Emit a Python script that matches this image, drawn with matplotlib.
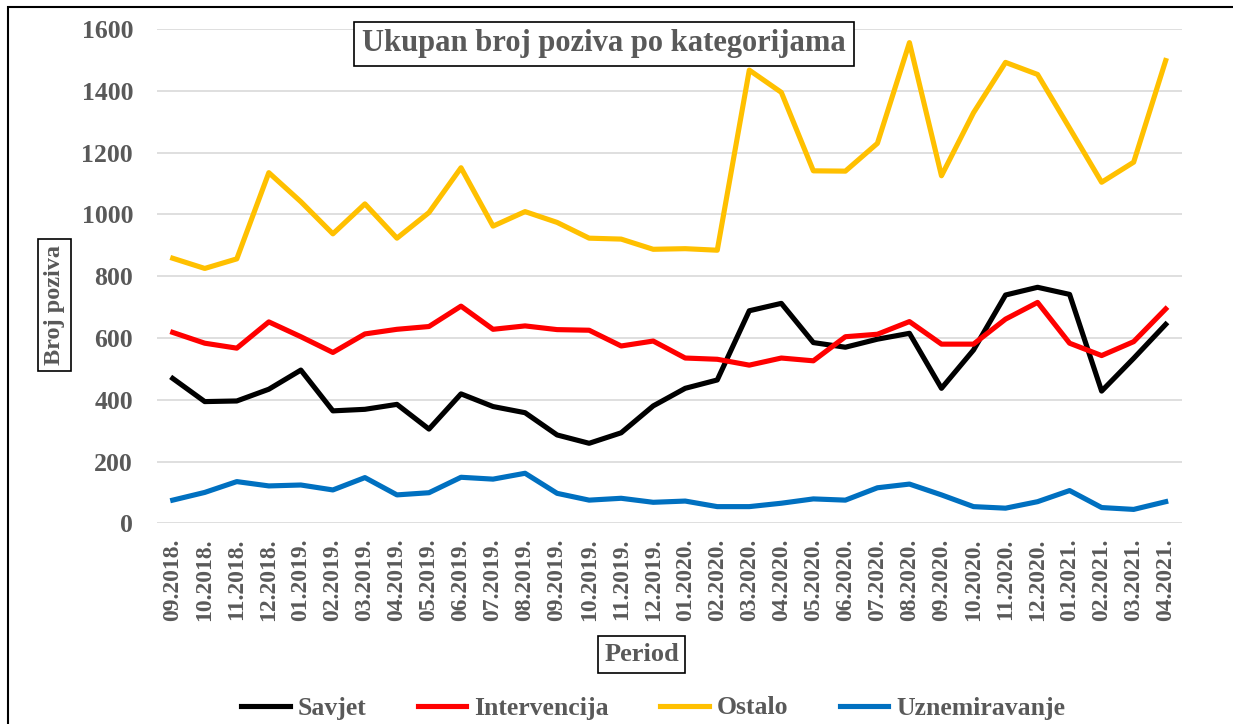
import matplotlib.pyplot as plt
from matplotlib.patches import Rectangle

periods = ["09.2018.", "10.2018.", "11.2018.", "12.2018.",
           "01.2019.", "02.2019.", "03.2019.", "04.2019.", "05.2019.", "06.2019.",
           "07.2019.", "08.2019.", "09.2019.", "10.2019.", "11.2019.", "12.2019.",
           "01.2020.", "02.2020.", "03.2020.", "04.2020.", "05.2020.", "06.2020.",
           "07.2020.", "08.2020.", "09.2020.", "10.2020.", "11.2020.", "12.2020.",
           "01.2021.", "02.2021.", "03.2021.", "04.2021."]

savjet = [469, 394, 396, 434, 496, 364, 369, 385, 305, 419, 378, 358,
          286, 259, 293, 380, 437, 464, 688, 712, 585, 570, 596, 615,
          437, 561, 739, 764, 741, 428, 534, 644]
intervencija = [618, 583, 567, 652, 604, 553, 613, 628, 637, 703, 628, 639,
                627, 625, 574, 590, 535, 531, 512, 535, 526, 604, 612, 653,
                580, 580, 661, 715, 583, 543, 588, 694]
ostalo = [858, 825, 856, 1135, 1041, 937, 1034, 923, 1006, 1151, 962, 1009,
          974, 923, 920, 887, 889, 884, 1467, 1395, 1141, 1140, 1230, 1556,
          1125, 1329, 1492, 1453, 1279, 1104, 1169, 1498]
uznemiravanje = [75, 100, 135, 121, 124, 108, 148, 92, 99, 149, 143, 162,
                 97, 75, 81, 68, 72, 54, 54, 65, 79, 75, 115, 127,
                 92, 54, 49, 70, 106, 51, 45, 70]

grey = '#595959'
plt.rcParams['font.family'] = ['Liberation Serif', 'DejaVu Serif']
plt.rcParams['font.weight'] = 'bold'

fig = plt.figure(figsize=(12.33, 7.24), dpi=100)
ax = fig.add_axes([0.1271, 0.2772, 0.8313, 0.6827])

x = range(len(periods))
ax.plot(x, savjet, color='black', lw=3.7, label='Savjet')
ax.plot(x, intervencija, color='#FF0000', lw=3.7, label='Intervencija')
ax.plot(x, ostalo, color='#FFC000', lw=3.7, label='Ostalo')
ax.plot(x, uznemiravanje, color='#0070C0', lw=3.7, label='Uznemiravanje')

ax.set_xlim(-0.5, len(periods) - 0.5)
ax.set_ylim(0, 1600)
ax.set_yticks(range(0, 1601, 200))
ax.set_xticks(list(x))
ax.set_xticklabels(periods, rotation=90, va='top', ha='center')
ax.tick_params(axis='y', length=0, pad=17, labelsize=18.5, labelcolor=grey)
ax.tick_params(axis='x', length=0, pad=11, labelsize=17, labelcolor=grey)
ax.grid(axis='y', color='#D9D9D9', lw=1.2)
ax.set_axisbelow(True)
for s in ax.spines.values():
    s.set_visible(False)

box = dict(boxstyle='square,pad=0.25', fc='white', ec='black', lw=1.2)
fig.text(604 / 1233, 1 - 44 / 724, 'Ukupan broj poziva po kategorijama',
         ha='center', va='center', fontsize=22, color=grey, bbox=box)
fig.text(54.5 / 1233, 1 - 305 / 724, 'Broj poziva', rotation=90,
         ha='center', va='center', fontsize=17.5, color=grey, bbox=box)
fig.text(641.5 / 1233, 1 - 654.5 / 724, 'Period',
         ha='center', va='center', fontsize=19, color=grey, bbox=box)

leg = fig.legend(loc='center', bbox_to_anchor=(653 / 1233, 1 - 708 / 724), ncol=4,
                 frameon=False, fontsize=18.5, handlelength=1.9, handletextpad=0.3,
                 columnspacing=2.0)
for t in leg.get_texts():
    t.set_color(grey)

fig.patches.append(Rectangle((8 / 1233, -0.05), 1.0, 1 - 7 / 724 + 0.05,
                             transform=fig.transFigure, fill=False,
                             ec='black', lw=1.5))

fig.savefig('out.png', dpi=100)
